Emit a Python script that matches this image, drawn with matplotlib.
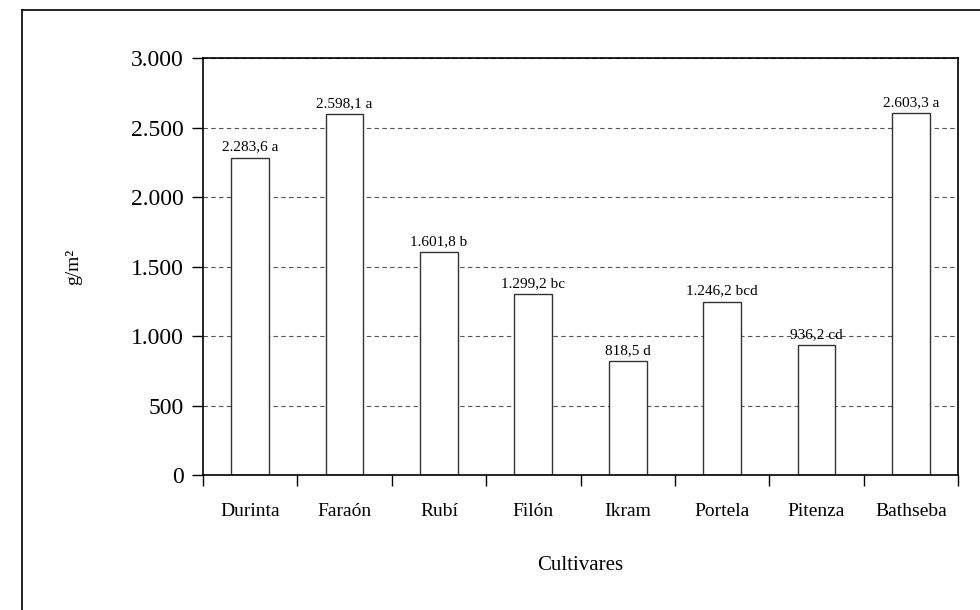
import matplotlib.pyplot as plt
from matplotlib.lines import Line2D

plt.rcParams['font.family'] = ['Liberation Serif', 'DejaVu Serif']

# Datos del grafico
cultivares = ['Durinta', 'Faraón', 'Rubí', 'Filón', 'Ikram', 'Portela', 'Pitenza', 'Bathseba']
produccion = [2283.6, 2598.1, 1601.8, 1299.2, 818.5, 1246.2, 936.2, 2603.3]
letras = ['a', 'a', 'b', 'bc', 'd', 'bcd', 'cd', 'a']
yticks = [0, 500, 1000, 1500, 2000, 2500, 3000]


def formato_es(v, dec=1):
    s = f"{v:,.{dec}f}"
    return s.replace(',', 'X').replace('.', ',').replace('X', '.')


fig = plt.figure(figsize=(9.8, 6.1), dpi=100)
ax = fig.add_axes([0.2071, 0.2213, 0.7705, 0.6836])

x = range(len(cultivares))
ax.set_axisbelow(True)
ax.yaxis.grid(True, linestyle=(0, (4, 3)), color='#555555', linewidth=0.8)
barras = ax.bar(x, produccion, width=0.4, color='white', edgecolor='#333333', linewidth=1.0)

for xi, v, l in zip(x, produccion, letras):
    ax.annotate(f"{formato_es(v)} {l}", (xi, v), xytext=(0, 3), textcoords='offset points',
                ha='center', va='bottom', fontsize=11)

ax.set_xlim(-0.5, len(cultivares) - 0.5)
ax.set_ylim(0, 3000)
ax.set_yticks(yticks)
ax.set_yticklabels([formato_es(t, 0) for t in yticks], fontsize=17)
ax.tick_params(axis='y', direction='out', length=8, width=1.0, pad=6)

ax.set_xticks(list(x))
ax.set_xticklabels(cultivares, fontsize=14)
ax.tick_params(axis='x', which='major', length=0, pad=20)
ax.set_xticks([i - 0.5 for i in range(len(cultivares) + 1)], minor=True)
ax.tick_params(axis='x', which='minor', direction='out', length=8, width=1.0)

for s in ax.spines.values():
    s.set_linewidth(1.2)

ax.set_xlabel('Cultivares', fontsize=15, labelpad=26)
ax.set_ylabel('g/m²', fontsize=14, labelpad=35)

# Marco exterior
fig.add_artist(Line2D([0.0224, 0.0224], [0.0, 0.9836], color='black', linewidth=1.2))
fig.add_artist(Line2D([0.0224, 1.0], [0.9836, 0.9836], color='black', linewidth=1.2))

fig.savefig('out.png', dpi=100)
